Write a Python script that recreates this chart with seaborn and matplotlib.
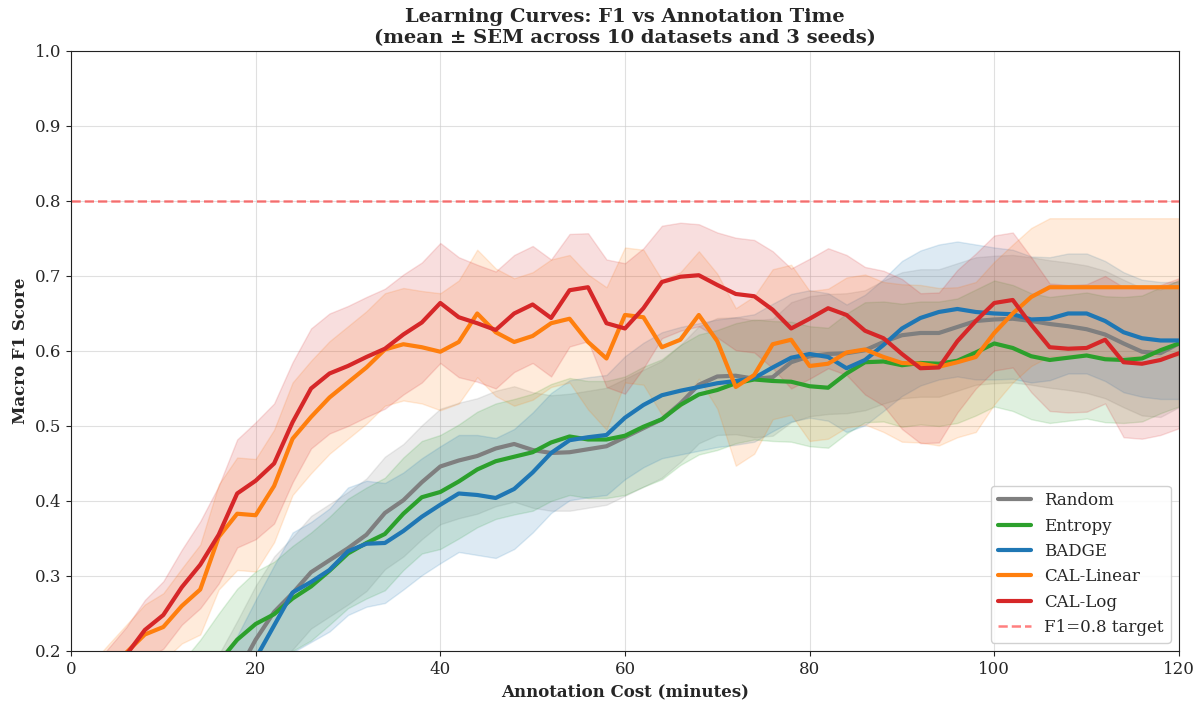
import numpy as np
import pandas as pd
import matplotlib
matplotlib.use("Agg")
import matplotlib.pyplot as plt
import seaborn as sns

# annotation time grid (minutes), every 2 minutes
minutes = np.arange(0, 121, 2)

strategies = ["Random", "Entropy", "BADGE", "CAL-Linear", "CAL-Log"]
colors = ["#7f7f7f", "#2ca02c", "#1f77b4", "#ff7f0e", "#d62728"]

# mean macro F1 per strategy
random_mean = [0.02, 0.03, 0.04, 0.05, 0.06, 0.07, 0.085, 0.10, 0.13, 0.17,
               0.215, 0.252, 0.277, 0.305, 0.321, 0.337, 0.355, 0.384, 0.401, 0.425,
               0.446, 0.454, 0.460, 0.470, 0.476, 0.468, 0.464, 0.465, 0.469, 0.473,
               0.485, 0.497, 0.509, 0.530, 0.555, 0.566, 0.567, 0.563, 0.565, 0.585,
               0.593, 0.596, 0.597, 0.601, 0.612, 0.621, 0.624, 0.624, 0.632, 0.640,
               0.642, 0.643, 0.640, 0.636, 0.633, 0.629, 0.622, 0.610, 0.599, 0.597,
               0.610]
entropy_mean = [0.04, 0.05, 0.06, 0.07, 0.09, 0.11, 0.13, 0.155, 0.185, 0.215,
                0.236, 0.249, 0.270, 0.286, 0.307, 0.330, 0.344, 0.356, 0.383, 0.405,
                0.412, 0.426, 0.442, 0.453, 0.459, 0.465, 0.478, 0.486, 0.482, 0.482,
                0.487, 0.499, 0.509, 0.528, 0.542, 0.548, 0.557, 0.562, 0.560, 0.559,
                0.553, 0.551, 0.570, 0.585, 0.586, 0.581, 0.584, 0.583, 0.587, 0.598,
                0.610, 0.604, 0.593, 0.588, 0.591, 0.594, 0.589, 0.588, 0.590, 0.601,
                0.610]
badge_mean = [0.02, 0.03, 0.04, 0.05, 0.06, 0.07, 0.08, 0.10, 0.12, 0.15,
              0.19, 0.234, 0.278, 0.292, 0.308, 0.333, 0.343, 0.344, 0.360, 0.379,
              0.395, 0.410, 0.408, 0.404, 0.416, 0.438, 0.464, 0.481, 0.485, 0.488,
              0.511, 0.528, 0.541, 0.547, 0.552, 0.557, 0.560, 0.564, 0.578, 0.591,
              0.596, 0.592, 0.577, 0.588, 0.608, 0.630, 0.644, 0.652, 0.656, 0.652,
              0.650, 0.649, 0.642, 0.643, 0.650, 0.650, 0.640, 0.625, 0.617, 0.614,
              0.614]
cal_linear_mean = [0.12, 0.15, 0.175, 0.198, 0.222, 0.232, 0.260, 0.282, 0.352, 0.383,
                   0.381, 0.420, 0.483, 0.512, 0.538, 0.558, 0.578, 0.602, 0.609, 0.605,
                   0.599, 0.612, 0.650, 0.625, 0.612, 0.620, 0.637, 0.643, 0.612, 0.590,
                   0.648, 0.645, 0.605, 0.615, 0.648, 0.613, 0.552, 0.568, 0.609, 0.615,
                   0.580, 0.583, 0.598, 0.602, 0.592, 0.584, 0.583, 0.579, 0.585, 0.592,
                   0.624, 0.650, 0.672, 0.685, 0.685, 0.685, 0.685, 0.685, 0.685, 0.685,
                   0.685]
cal_log_mean = [0.11, 0.14, 0.17, 0.195, 0.228, 0.248, 0.285, 0.315, 0.355, 0.410,
                0.427, 0.450, 0.505, 0.550, 0.570, 0.580, 0.592, 0.603, 0.622, 0.638,
                0.664, 0.645, 0.637, 0.628, 0.650, 0.662, 0.644, 0.681, 0.685, 0.637,
                0.630, 0.657, 0.692, 0.699, 0.701, 0.688, 0.676, 0.673, 0.655, 0.630,
                0.643, 0.657, 0.648, 0.627, 0.617, 0.596, 0.577, 0.578, 0.613, 0.640,
                0.664, 0.668, 0.635, 0.605, 0.603, 0.604, 0.615, 0.585, 0.583, 0.588,
                0.597]

# standard error of the mean per strategy
random_sem = [0.04, 0.04, 0.045, 0.045, 0.05, 0.05, 0.055, 0.06, 0.065, 0.07,
              0.072, 0.074, 0.075, 0.075, 0.075, 0.075, 0.075, 0.075, 0.075, 0.076,
              0.077, 0.077, 0.077, 0.077, 0.077, 0.077, 0.077, 0.078, 0.078, 0.078,
              0.078, 0.078, 0.078, 0.078, 0.078, 0.078, 0.078, 0.078, 0.078, 0.08,
              0.08, 0.08, 0.08, 0.08, 0.082, 0.084, 0.085, 0.085, 0.085, 0.085,
              0.085, 0.085, 0.085, 0.085, 0.085, 0.085, 0.085, 0.085, 0.085, 0.085,
              0.085]
entropy_sem = [0.04, 0.04, 0.045, 0.045, 0.05, 0.05, 0.055, 0.06, 0.065, 0.068,
               0.07, 0.07, 0.07, 0.072, 0.072, 0.073, 0.074, 0.075, 0.075, 0.075,
               0.076, 0.076, 0.077, 0.077, 0.077, 0.078, 0.078, 0.078, 0.078, 0.078,
               0.079, 0.08, 0.08, 0.08, 0.08, 0.08, 0.08, 0.08, 0.08, 0.08,
               0.08, 0.08, 0.08, 0.08, 0.08, 0.082, 0.082, 0.083, 0.083, 0.084,
               0.084, 0.084, 0.084, 0.084, 0.084, 0.084, 0.084, 0.084, 0.084, 0.084,
               0.084]
badge_sem = [0.05, 0.05, 0.05, 0.05, 0.05, 0.05, 0.05, 0.055, 0.06, 0.07,
             0.078, 0.08, 0.08, 0.08, 0.082, 0.085, 0.084, 0.08, 0.078, 0.078,
             0.078, 0.078, 0.08, 0.08, 0.08, 0.08, 0.08, 0.08, 0.08, 0.08,
             0.082, 0.083, 0.084, 0.085, 0.085, 0.085, 0.085, 0.085, 0.085, 0.085,
             0.085, 0.085, 0.085, 0.087, 0.088, 0.09, 0.09, 0.09, 0.09, 0.09,
             0.088, 0.086, 0.084, 0.082, 0.08, 0.08, 0.08, 0.08, 0.078, 0.078,
             0.078]
cal_linear_sem = [0.03, 0.03, 0.033, 0.037, 0.04, 0.045, 0.05, 0.06, 0.07, 0.075,
                  0.075, 0.075, 0.075, 0.075, 0.075, 0.075, 0.075, 0.075, 0.075, 0.075,
                  0.078, 0.082, 0.085, 0.085, 0.085, 0.085, 0.085, 0.085, 0.09, 0.095,
                  0.09, 0.09, 0.09, 0.09, 0.085, 0.09, 0.105, 0.105, 0.1, 0.1,
                  0.1, 0.1, 0.1, 0.1, 0.1, 0.105, 0.105, 0.105, 0.1, 0.1,
                  0.095, 0.092, 0.092, 0.092, 0.092, 0.092, 0.092, 0.092, 0.092, 0.092,
                  0.092]
cal_log_sem = [0.03, 0.03, 0.033, 0.037, 0.04, 0.045, 0.05, 0.058, 0.065, 0.072,
               0.078, 0.08, 0.08, 0.08, 0.08, 0.08, 0.08, 0.08, 0.08, 0.08,
               0.08, 0.08, 0.078, 0.078, 0.078, 0.078, 0.078, 0.075, 0.072, 0.085,
               0.087, 0.08, 0.075, 0.072, 0.068, 0.07, 0.075, 0.075, 0.078, 0.08,
               0.08, 0.08, 0.08, 0.085, 0.09, 0.1, 0.1, 0.1, 0.095, 0.09,
               0.09, 0.09, 0.09, 0.085, 0.085, 0.085, 0.085, 0.1, 0.1, 0.1,
               0.1]

means = [random_mean, entropy_mean, badge_mean, cal_linear_mean, cal_log_mean]
sems = [random_sem, entropy_sem, badge_sem, cal_linear_sem, cal_log_sem]

target_f1 = 0.8

sns.set_style("ticks")
plt.rcParams["font.family"] = ["DejaVu Serif"]

fig, ax = plt.subplots(figsize=(12.03, 7.04), dpi=100)
fig.subplots_adjust(left=0.059, right=0.980, top=0.9276, bottom=0.0753)

for name, col, m, s in zip(strategies, colors, means, sems):
    m = np.array(m)
    s = np.array(s)
    df = pd.DataFrame({"minutes": minutes, "f1": m})
    sns.lineplot(data=df, x="minutes", y="f1", color=col, linewidth=3,
                 label=name, ax=ax)
    ax.fill_between(minutes, m - s, m + s, color=col, alpha=0.15)

ax.axhline(target_f1, color="red", linestyle="--", linewidth=1.8, alpha=0.5,
           label="F1=0.8 target")

ax.set_xlim(0, 120)
ax.set_ylim(0.2, 1.0)
ax.set_xticks(np.arange(0, 121, 20))
ax.set_yticks(np.arange(0.2, 1.01, 0.1))
ax.grid(True, color="#cccccc", alpha=0.6, linewidth=0.8)
ax.tick_params(labelsize=12)
for sp in ax.spines.values():
    sp.set_color("#222222")

ax.set_xlabel("Annotation Cost (minutes)", fontsize=12, fontweight="bold")
ax.set_ylabel("Macro F1 Score", fontsize=12, fontweight="bold")
ax.set_title("Learning Curves: F1 vs Annotation Time\n"
             "(mean \u00b1 SEM across 10 datasets and 3 seeds)",
             fontsize=14, fontweight="bold")
ax.legend(loc="lower right", fontsize=12, framealpha=0.9)

fig.savefig("out.png", dpi=100)
